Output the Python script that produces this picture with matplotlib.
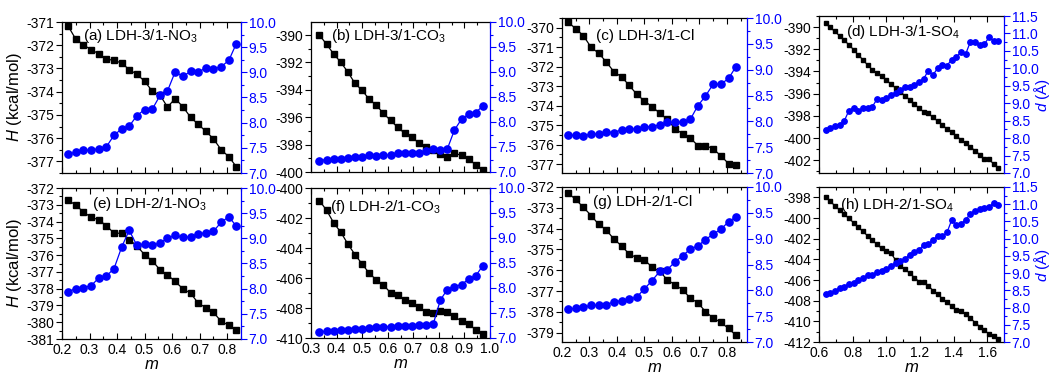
import matplotlib
matplotlib.use("Agg")
import matplotlib.pyplot as plt
from matplotlib.ticker import MultipleLocator, FormatStrFormatter

plt.rcParams['font.family'] = ['Liberation Sans', 'DejaVu Sans']
plt.rcParams['mathtext.fontset'] = 'custom'
plt.rcParams['mathtext.rm'] = 'Liberation Sans'
plt.rcParams['mathtext.it'] = 'Liberation Sans:italic'
plt.rcParams['mathtext.bf'] = 'Liberation Sans:bold'

# ---------------- data ----------------
m_a = [0.222, 0.250, 0.278, 0.306, 0.333, 0.361, 0.389, 0.417, 0.444, 0.472, 0.500, 0.528,
       0.556, 0.583, 0.611, 0.639, 0.667, 0.694, 0.722, 0.750, 0.778, 0.806, 0.833]
m_b = [0.333, 0.361, 0.389, 0.417, 0.444, 0.472, 0.500, 0.528, 0.556, 0.583, 0.611, 0.639,
       0.667, 0.694, 0.722, 0.750, 0.778, 0.806, 0.833, 0.861, 0.889, 0.917, 0.944, 0.972]
m_d = [0.639, 0.667, 0.694, 0.722, 0.750, 0.778, 0.806, 0.833, 0.861, 0.889, 0.917, 0.944,
       0.972, 1.000, 1.028, 1.056, 1.083, 1.111, 1.139, 1.167, 1.194, 1.222, 1.250, 1.278,
       1.306, 1.333, 1.361, 1.389, 1.417, 1.444, 1.472, 1.500, 1.528, 1.556, 1.583, 1.611,
       1.639, 1.667]

H_a = [-371.17, -371.74, -371.98, -372.20, -372.36, -372.60, -372.65, -372.77, -373.05, -373.25,
       -373.55, -373.98, -374.15, -374.66, -374.30, -374.65, -375.10, -375.40, -375.70, -376.03,
       -376.50, -376.80, -377.23]
d_a = [7.38, 7.41, 7.45, 7.46, 7.48, 7.52, 7.75, 7.88, 7.93, 8.14, 8.26, 8.27, 8.54, 8.63, 9.01,
       8.92, 9.02, 9.01, 9.08, 9.07, 9.11, 9.24, 9.57]

H_b = [-390.00, -390.68, -391.39, -392.00, -392.70, -393.53, -394.04, -394.70, -395.13, -395.72,
       -396.23, -396.74, -397.18, -397.42, -397.91, -398.18, -398.42, -398.69, -398.88, -398.64,
       -398.78, -399.08, -399.46, -399.85]
d_b = [7.23, 7.25, 7.26, 7.27, 7.28, 7.30, 7.31, 7.35, 7.33, 7.34, 7.34, 7.38, 7.38, 7.38, 7.39,
       7.42, 7.46, 7.45, 7.46, 7.84, 8.06, 8.16, 8.19, 8.32]

H_c = [-369.71, -370.05, -370.41, -371.01, -371.30, -371.75, -372.26, -372.52, -372.95, -373.41,
       -373.76, -374.05, -374.39, -374.70, -375.18, -375.44, -375.66, -376.04, -376.04, -376.21,
       -376.57, -376.97, -377.05]
d_c = [7.73, 7.73, 7.71, 7.76, 7.75, 7.80, 7.78, 7.84, 7.86, 7.85, 7.89, 7.90, 7.93, 7.98, 7.98,
       7.99, 8.04, 8.30, 8.49, 8.72, 8.72, 8.83, 9.06]

H_d = [-389.67, -390.03, -390.39, -390.78, -391.20, -391.59, -392.04, -392.52, -392.94, -393.42,
       -393.84, -394.17, -394.38, -394.77, -395.14, -395.50, -395.83, -396.19, -396.55, -396.94,
       -397.30, -397.63, -397.78, -398.14, -398.47, -398.83, -399.19, -399.49, -399.82, -400.15,
       -400.48, -400.81, -401.14, -401.50, -401.89, -401.92, -402.34, -402.67]
d_d = [8.24, 8.29, 8.36, 8.38, 8.49, 8.79, 8.87, 8.78, 8.85, 8.85, 8.90, 9.11, 9.09, 9.14, 9.24,
       9.30, 9.38, 9.46, 9.46, 9.51, 9.61, 9.70, 9.93, 9.81, 10.01, 10.10, 10.08, 10.25, 10.32,
       10.47, 10.41, 10.76, 10.75, 10.68, 10.69, 10.89, 10.79, 10.78]

H_e = [-372.72, -373.02, -373.43, -373.75, -373.89, -374.25, -374.69, -374.70, -375.08, -375.45,
       -375.98, -376.34, -376.88, -377.18, -377.57, -378.01, -378.27, -378.85, -379.13, -379.41,
       -379.95, -380.18, -380.46]
d_e = [7.94, 8.00, 8.02, 8.06, 8.21, 8.25, 8.40, 8.83, 9.16, 8.86, 8.89, 8.86, 8.91, 9.00, 9.06,
       9.02, 9.03, 9.09, 9.11, 9.14, 9.32, 9.43, 9.24]

H_f = [-400.84, -401.49, -402.33, -402.96, -403.73, -404.44, -405.07, -405.69, -406.13, -406.47,
       -406.98, -407.16, -407.47, -407.69, -407.96, -408.24, -408.36, -408.22, -408.24, -408.56,
       -408.89, -409.04, -409.47, -409.73]
d_f = [7.12, 7.14, 7.15, 7.16, 7.17, 7.18, 7.19, 7.21, 7.22, 7.23, 7.23, 7.24, 7.25, 7.25, 7.27,
       7.27, 7.28, 7.76, 7.97, 8.03, 8.07, 8.18, 8.24, 8.45]

H_g = [-372.29, -372.60, -372.98, -373.37, -373.79, -374.06, -374.51, -374.83, -375.22, -375.40,
       -375.51, -375.85, -376.06, -376.46, -376.70, -376.94, -377.35, -377.56, -377.99, -378.30,
       -378.51, -378.80, -379.13]
d_g = [7.64, 7.65, 7.67, 7.71, 7.71, 7.72, 7.78, 7.80, 7.83, 7.87, 8.03, 8.19, 8.37, 8.40, 8.55,
       8.67, 8.80, 8.86, 8.98, 9.09, 9.18, 9.33, 9.42]

H_h = [-397.97, -398.39, -398.81, -399.23, -399.65, -400.04, -400.46, -400.88, -401.30, -401.72,
       -402.17, -402.53, -402.95, -403.24, -403.40, -404.08, -404.63, -404.95, -405.34, -405.76,
       -406.15, -406.18, -406.57, -407.02, -407.38, -407.80, -408.15, -408.54, -408.90, -408.99,
       -409.32, -409.70, -410.12, -410.51, -410.87, -411.22, -411.45, -411.68]
d_h = [8.38, 8.41, 8.49, 8.57, 8.60, 8.69, 8.71, 8.79, 8.85, 8.94, 8.94, 9.04, 9.07, 9.13, 9.21,
       9.28, 9.36, 9.41, 9.54, 9.60, 9.66, 9.83, 9.85, 9.97, 10.08, 10.07, 10.18, 10.54, 10.39,
       10.44, 10.54, 10.73, 10.81, 10.86, 10.89, 10.93, 11.03, 10.98]

titles = ['(a) LDH-3/1-NO$_3$', '(b) LDH-3/1-CO$_3$', '(c) LDH-3/1-Cl', '(d) LDH-3/1-SO$_4$',
          '(e) LDH-2/1-NO$_3$', '(f) LDH-2/1-CO$_3$', '(g) LDH-2/1-Cl', '(h) LDH-2/1-SO$_4$']

# ---------------- layout ----------------
W, Hpx = 1052, 375
fig = plt.figure(figsize=(W / 100, Hpx / 100), dpi=100)

panels = [
    dict(box=(62, 241, 22, 173), m=m_a, H=H_a, d=d_a, xlim=(0.2, 0.85), ylim=(-377.5, -371), d_lim=(7, 10),
         ymaj=1, xmaj=0.1, tpos=(0.115, 0.905), ms=(4.3, 5.2)),
    dict(box=(311, 490, 22, 172), m=m_b, H=H_b, d=d_b, xlim=(0.3, 1.0), ylim=(-400, -389.05), d_lim=(7, 10),
         ymaj=2, xmaj=0.1, tpos=(0.11, 0.905), ms=(4.3, 5.2)),
    dict(box=(562, 747, 18, 173), m=m_a, H=H_c, d=d_c, xlim=(0.2, 0.873), ylim=(-377.45, -369.5), d_lim=(7, 10),
         ymaj=1, xmaj=0.1, tpos=(0.185, 0.885), ms=(4.3, 5.2)),
    dict(box=(819, 1004, 16, 173), m=m_d, H=H_d, d=d_d, xlim=(0.6, 1.7), ylim=(-403.15, -389), d_lim=(7, 11.5),
         ymaj=2, xmaj=0.2, tpos=(0.148, 0.898), ms=(3.0, 3.9)),
    dict(box=(62, 241, 188, 339), m=m_a, H=H_e, d=d_e, xlim=(0.2, 0.85), ylim=(-381, -372), d_lim=(7, 10),
         ymaj=1, xmaj=0.1, tpos=(0.165, 0.893), ms=(4.3, 5.2)),
    dict(box=(311, 490, 188, 338), m=m_b, H=H_f, d=d_f, xlim=(0.3, 1.0), ylim=(-410, -400), d_lim=(7, 10),
         ymaj=2, xmaj=0.1, tpos=(0.105, 0.875), ms=(4.3, 5.2)),
    dict(box=(562, 747, 187, 342), m=m_a, H=H_g, d=d_g, xlim=(0.2, 0.873), ylim=(-379.45, -372), d_lim=(7, 10),
         ymaj=1, xmaj=0.1, tpos=(0.165, 0.903), ms=(4.3, 5.2)),
    dict(box=(819, 1004, 187, 342), m=m_d, H=H_h, d=d_h, xlim=(0.6, 1.7), ylim=(-412, -397), d_lim=(7, 11.5),
         ymaj=2, xmaj=0.2, tpos=(0.112, 0.885), ms=(3.0, 3.9)),
]

BLUE = '#0000ff'
TFS = 10

for i, p in enumerate(panels):
    x0, x1, yt, yb = p['box']
    ax = fig.add_axes([x0 / W, 1 - yb / Hpx, (x1 - x0) / W, (yb - yt) / Hpx])
    ax2 = ax.twinx()
    ax.plot(p['m'], p['H'], '-s', color='black', ms=p['ms'][0], lw=0.9, zorder=3)
    ax2.plot(p['m'], p['d'], '-o', color=BLUE, ms=p['ms'][1], lw=0.9, zorder=3)

    ax.set_xlim(*p['xlim'])
    ax.set_ylim(*p['ylim'])
    ax2.set_ylim(*p['d_lim'])

    ax.xaxis.set_major_locator(MultipleLocator(p['xmaj']))
    ax.xaxis.set_minor_locator(MultipleLocator(p['xmaj'] / 2))
    ax.xaxis.set_major_formatter(FormatStrFormatter('%.1f'))
    ax.yaxis.set_major_locator(MultipleLocator(p['ymaj']))
    ax.yaxis.set_minor_locator(MultipleLocator(p['ymaj'] / 2))
    ax.yaxis.set_major_formatter(FormatStrFormatter('%d'))
    ax2.yaxis.set_major_locator(MultipleLocator(0.5))
    ax2.yaxis.set_minor_locator(MultipleLocator(0.25))
    ax2.yaxis.set_major_formatter(FormatStrFormatter('%.1f'))

    ax.tick_params(axis='x', which='both', direction='in', top=True, bottom=True,
                   labelsize=TFS, pad=3)
    ax.tick_params(axis='x', which='major', length=4, width=0.8)
    ax.tick_params(axis='x', which='minor', length=2.5, width=0.8)
    ax.tick_params(axis='y', which='both', direction='out', left=True, right=False,
                   labelsize=TFS, pad=1.5)
    ax.tick_params(axis='y', which='major', length=4, width=0.8)
    ax.tick_params(axis='y', which='minor', length=2.5, width=0.8)
    ax2.tick_params(axis='y', which='both', direction='out', colors=BLUE,
                    labelsize=TFS, pad=1.5)
    ax2.tick_params(axis='y', which='major', length=4, width=0.8)
    ax2.tick_params(axis='y', which='minor', length=2.5, width=0.8)

    for sp in ax.spines.values():
        sp.set_linewidth(0.9)
    ax.spines['right'].set_visible(False)
    for name, sp in ax2.spines.items():
        sp.set_visible(name == 'right')
    ax2.spines['right'].set_color(BLUE)
    ax2.spines['right'].set_linewidth(0.9)

    if i < 4:
        ax.tick_params(axis='x', labelbottom=False)
    else:
        ax.set_xlabel('$m$', fontsize=12, labelpad=0)

    if i in (0, 4):
        ax.set_ylabel('$H$ (kcal/mol)', fontsize=12, labelpad=2)
    if i in (3, 7):
        ax2.set_ylabel('$d$ (Å)', fontsize=11, color=BLUE)
        ax2.yaxis.set_label_coords((1032 - x0) / (x1 - x0), 0.5)

    ax.text(p['tpos'][0], p['tpos'][1], titles[i], transform=ax.transAxes,
            fontsize=11, va='center', ha='left', zorder=5)

fig.savefig('out.png', dpi=100)
